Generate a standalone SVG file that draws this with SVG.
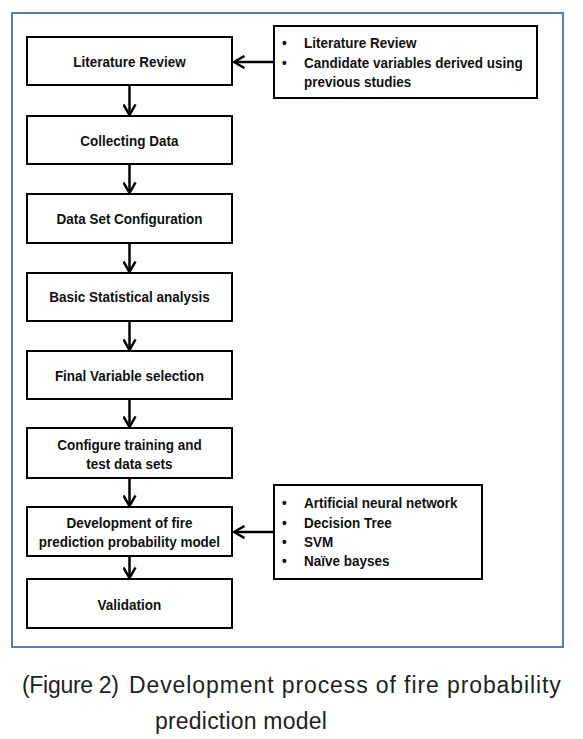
<svg xmlns="http://www.w3.org/2000/svg" width="583" height="739" viewBox="0 0 583 739">
<style>
.box{fill:#fff;stroke:#000;stroke-width:2}
.t,.l{font-family:"Liberation Sans",Arial,sans-serif;font-weight:bold;font-size:14.5px;fill:#111;transform:scaleX(0.93)}
.t{text-anchor:middle}
.c{font-family:"Liberation Sans",Arial,sans-serif;font-size:23px;fill:#222}
.con{stroke:#000;stroke-width:2.5;fill:none;marker-end:url(#ah)}
</style>
<defs>
<marker id="ah" viewBox="0 0 13 14" refX="11.5" refY="7" markerWidth="13" markerHeight="14" markerUnits="userSpaceOnUse" orient="auto">
<path d="M1,1 L11.5,7 L1,13" fill="none" stroke="#000" stroke-width="2.5"/>
</marker>
</defs>
<rect width="583" height="739" fill="#fff"/>
<rect x="12" y="13" width="551" height="634" fill="#fff" stroke="#5b7bad" stroke-width="2"/>
<g id="n1"><rect class="box" x="27" y="37" width="205" height="48"/><text class="t" x="139.2" y="67">Literature Review</text></g>
<g id="n2"><rect class="box" x="27" y="116" width="205" height="48"/><text class="t" x="139.2" y="146">Collecting Data</text></g>
<g id="n3"><rect class="box" x="27" y="194" width="205" height="49"/><text class="t" x="139.2" y="224">Data Set Configuration</text></g>
<g id="n4"><rect class="box" x="27" y="273" width="205" height="48"/><text class="t" x="139.2" y="302">Basic Statistical analysis</text></g>
<g id="n5"><rect class="box" x="27" y="351" width="205" height="48"/><text class="t" x="139.2" y="381">Final Variable selection</text></g>
<g id="n6"><rect class="box" x="27" y="428" width="205" height="50"/><text class="t" x="139.2" y="450">Configure training and</text><text class="t" x="139.2" y="469">test data sets</text></g>
<g id="n7"><rect class="box" x="27" y="507" width="205" height="49"/><text class="t" x="139.2" y="528">Development of fire</text><text class="t" x="139.2" y="547">prediction probability model</text></g>
<g id="n8"><rect class="box" x="27" y="579" width="205" height="49"/><text class="t" x="139.2" y="610">Validation</text></g>
<g id="r1"><rect class="box" x="274" y="26" width="263" height="72"/>
<text class="l" x="303.2" y="48">•</text><text class="l" x="326.9" y="48">Literature Review</text>
<text class="l" x="303.2" y="68">•</text><text class="l" x="326.9" y="68">Candidate variables derived using</text>
<text class="l" x="326.9" y="87">previous studies</text></g>
<g id="r2"><rect class="box" x="274" y="485" width="208" height="94"/>
<text class="l" x="303.2" y="508">•</text><text class="l" x="326.9" y="508">Artificial neural network</text>
<text class="l" x="303.2" y="528">•</text><text class="l" x="326.9" y="528">Decision Tree</text>
<text class="l" x="303.2" y="547">•</text><text class="l" x="326.9" y="547">SVM</text>
<text class="l" x="303.2" y="566">•</text><text class="l" x="326.9" y="566">Naïve bayses</text></g>
<g id="connectors">
<line class="con" x1="129.5" y1="85" x2="129.5" y2="115"/>
<line class="con" x1="129.5" y1="164" x2="129.5" y2="193"/>
<line class="con" x1="129.5" y1="243" x2="129.5" y2="272"/>
<line class="con" x1="129.5" y1="321" x2="129.5" y2="350"/>
<line class="con" x1="129.5" y1="399" x2="129.5" y2="427"/>
<line class="con" x1="129.5" y1="478" x2="129.5" y2="506"/>
<line class="con" x1="129.5" y1="556" x2="129.5" y2="578"/>
<line class="con" x1="274" y1="62" x2="234" y2="62"/>
<line class="con" x1="274" y1="532" x2="234" y2="532"/>
</g>
<text class="c" y="693"><tspan x="22" letter-spacing="-0.3">(Figure 2)</tspan><tspan x="129" letter-spacing="0.9">Development process of fire probability</tspan></text>
<text class="c" x="155" y="729" letter-spacing="0.2">prediction model</text>
</svg>
